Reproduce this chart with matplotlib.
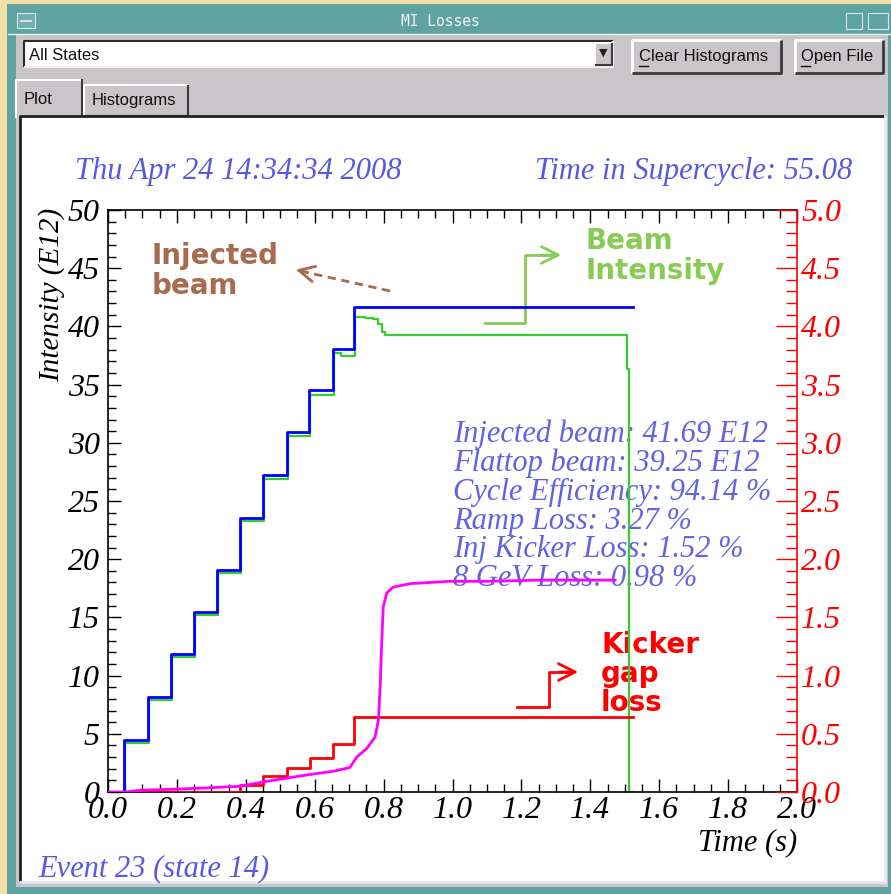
import numpy as np
import matplotlib.pyplot as plt
from matplotlib.patches import Rectangle, FancyArrowPatch
from matplotlib.ticker import MultipleLocator

# injected beam (blue), E12
inj_t = [0.0, 0.046, 0.116, 0.183, 0.250, 0.316, 0.383, 0.450, 0.520, 0.584, 0.653, 0.714, 1.524]
inj_v = [0.0, 4.47, 8.16, 11.86, 15.46, 19.07, 23.5, 27.2, 30.9, 34.5, 38.1, 41.69, 41.69]

# beam intensity (green), E12
beam_t = [0.0, 0.049, 0.119, 0.186, 0.253, 0.319, 0.386, 0.453, 0.523, 0.587, 0.656, 0.676,
          0.717, 0.745, 0.770, 0.785, 0.795, 0.805, 1.506, 1.511, 1.525]
beam_v = [0.0, 4.2, 7.9, 11.6, 15.2, 18.8, 23.3, 26.9, 30.6, 34.1, 37.7, 37.5,
          40.8, 40.7, 40.6, 40.2, 39.5, 39.25, 36.3, 0.0, 0.0]

# 8 GeV loss (magenta), right scale
loss8_t = [0.0, 0.05, 0.093, 0.20, 0.276, 0.383, 0.45, 0.52, 0.586, 0.653, 0.702, 0.722,
           0.75, 0.775, 0.785, 0.79, 0.794, 0.799, 0.809, 0.828, 0.877, 0.993, 1.10, 1.25, 1.472]
loss8_v = [0.0, 0.0, 0.015, 0.025, 0.034, 0.049, 0.086, 0.12, 0.15, 0.178, 0.21, 0.30,
           0.37, 0.47, 0.62, 0.90, 1.25, 1.59, 1.71, 1.76, 1.79, 1.81, 1.81, 1.82, 1.82]

# kicker gap loss (red), right scale
kick_t = [0.046, 0.383, 0.450, 0.520, 0.586, 0.653, 0.714, 1.524]
kick_v = [0.0, 0.064, 0.14, 0.21, 0.295, 0.416, 0.645, 0.645]

stats = ["Injected beam: 41.69 E12",
         "Flattop beam: 39.25 E12",
         "Cycle Efficiency: 94.14 %",
         "Ramp Loss: 3.27 %",
         "Inj Kicker Loss: 1.52 %",
         "8 GeV Loss: 0.98 %"]

W, H = 891, 894
fig = plt.figure(figsize=(W / 100, H / 100), dpi=100)

# window frame drawn in pixel coordinates
bg = fig.add_axes([0, 0, 1, 1], zorder=-1)
bg.set_xlim(0, W)
bg.set_ylim(H, 0)
bg.axis('off')

def rect(x0, y0, x1, y1, fc, ec='none', lw=0):
    bg.add_patch(Rectangle((x0, y0), x1 - x0, y1 - y0, fc=fc, ec=ec, lw=lw))

def bevel(x0, y0, x1, y1, light='#ffffff', dark='#3a3a3a', lw=1.5):
    bg.plot([x0, x0, x1], [y1, y0, y0], color=light, lw=lw, solid_capstyle='butt')
    bg.plot([x0, x1, x1], [y1, y1, y0], color=dark, lw=lw, solid_capstyle='butt')

ui = dict(fontsize=12, family='Liberation Sans', color='#111111', va='center')

rect(0, 0, W, H, '#f2dfa6')
rect(7, 4, W, H, '#5fa3a3')
rect(16, 34, 888, 887, '#c9c5c9')
# title bar
bg.plot([8, W], [34, 34], color='#e8f0f0', lw=1)
rect(17, 13, 35, 28, '#6fb0b0', '#d8e8e8', 0.8)
bg.plot([21, 31], [21, 21], color='#e0e0e0', lw=1.5)
rect(846, 13, 862, 29, '#5fa3a3', '#d8e8e8', 0.8)
rect(868, 13, 888, 29, '#5fa3a3', '#d8e8e8', 0.8)
bg.text(440, 21, "MI Losses", ha='center', va='center', fontsize=10.5,
        family='DejaVu Sans Mono', color='#f4f4f4')

# combo box
rect(24, 41, 613, 67, '#ffffff')
bevel(24, 41, 613, 67, light='#2a2a2a', dark='#f0f0f0')
bg.text(29, 55, "All States", ha='left', **ui)
rect(595, 43, 612, 65, '#c9c5c9')
bevel(595, 43, 612, 65)
bg.text(603.5, 53, "\u25bc", ha='center', va='center', fontsize=8, color='#222222')

# buttons
for x0, x1, tx, label in [(632, 781, 639, "Clear Histograms"), (795, 883, 801, "Open File")]:
    bevel(x0, 40, x1, 73, lw=2)
    bg.text(tx, 57, label, ha='left', **ui)
    bg.plot([tx, tx + 9], [66, 66], color='#111111', lw=1)

# tabs
bevel(84, 85, 188, 116, lw=1.5)
bg.text(92, 101, "Histograms", ha='left', **ui)
rect(16, 80, 83, 117, '#c9c5c9')
bg.plot([16, 16, 82], [117, 80, 80], color='#ffffff', lw=1.5)
bg.plot([82, 82], [80, 115], color='#3a3a3a', lw=1.5)
bg.text(24, 99, "Plot", ha='left', **ui)

# plot panel
rect(20, 116, 885, 882, '#ffffff')
bg.plot([20, 20, 885], [882, 116, 116], color='#222222', lw=2)
bg.plot([20, 885, 885], [882, 882, 116], color='#e8e8e8', lw=2)

serif = 'Liberation Serif'
txt_blue = '#5858e0'
bg.text(75, 171, "Thu Apr 24 14:34:34 2008", ha='left', va='center', fontsize=22,
        family=serif, style='italic', color=txt_blue)
bg.text(852, 171, "Time in Supercycle: 55.08", ha='right', va='center', fontsize=22,
        family=serif, style='italic', color=txt_blue)
bg.text(38, 869, "Event 23 (state 14)", ha='left', va='center', fontsize=22,
        family=serif, style='italic', color=txt_blue)
for i, s in enumerate(stats):
    bg.text(453, 434 + 29 * i, s, ha='left', va='center', fontsize=22,
            family=serif, style='italic', color='#6262e2')

# callouts
brown = '#a86b50'
green_lbl = '#88cc55'
bg.text(152, 271, "Injected\nbeam", ha='left', va='center', fontsize=20,
        fontweight='bold', color=brown, linespacing=1.1)
bg.plot([390, 305], [291, 272], color=brown, lw=2, ls=(0, (3, 2)))
bg.add_patch(FancyArrowPatch((310, 273), (293, 269), arrowstyle='->',
                             mutation_scale=28, color=brown, lw=2))
bg.text(585, 256, "Beam\nIntensity", ha='left', va='center', fontsize=20,
        fontweight='bold', color=green_lbl, linespacing=1.1)
bg.plot([485, 525, 525, 555], [323, 323, 255, 255], color=green_lbl, lw=2)
bg.add_patch(FancyArrowPatch((540, 255), (564, 255), arrowstyle='->',
                             mutation_scale=30, color=green_lbl, lw=2))
bg.text(601, 674, "Kicker\ngap\nloss", ha='left', va='center', fontsize=20,
        fontweight='bold', color='#ff0000', linespacing=1.05)
bg.plot([517, 549, 549, 572], [707, 707, 672, 672], color='#ff0000', lw=2)
bg.add_patch(FancyArrowPatch((557, 672), (581, 672), arrowstyle='->',
                             mutation_scale=30, color='#ff0000', lw=2))

# chart
ax = fig.add_axes([108 / W, 1 - 792 / H, 689 / W, 582 / H])
ax.set_facecolor('none')
ax.plot(beam_t, beam_v, drawstyle='steps-post', color='#33cc33', lw=1.6)
ax.plot(inj_t, inj_v, drawstyle='steps-post', color='#0000ff', lw=2.0)
ax.set_xlim(0, 2.0)
ax.set_ylim(0, 50)
ax.xaxis.set_major_locator(MultipleLocator(0.2))
ax.xaxis.set_minor_locator(MultipleLocator(0.05))
ax.yaxis.set_major_locator(MultipleLocator(5))
ax.yaxis.set_minor_locator(MultipleLocator(1))
ax.xaxis.set_major_formatter(lambda v, p: "%.1f" % v)
ax.tick_params(axis='x', which='both', direction='in', top=True, colors='black',
               labelsize=23, pad=3)
ax.tick_params(axis='y', which='both', direction='in', right=False, labelsize=23, pad=6)
ax.tick_params(which='major', length=9.5, width=1)
ax.tick_params(which='minor', length=5.5, width=1)
for lab in ax.get_xticklabels() + ax.get_yticklabels():
    lab.set_family(serif)
    lab.set_style('italic')
for sp in ax.spines.values():
    sp.set_linewidth(1.2)
ax.set_ylabel("Intensity (E12)", fontsize=21, family=serif, style='italic')
ax.yaxis.set_label_coords(-0.062, 0.855)
ax.set_xlabel("Time (s)", fontsize=22, family=serif, style='italic')
ax.xaxis.set_label_coords(1.0, -0.062)
ax.xaxis.label.set_horizontalalignment('right')

ax2 = ax.twinx()
ax2.plot(kick_t, kick_v, drawstyle='steps-post', color='#ff0000', lw=2.0)
ax2.plot(loss8_t, loss8_v, color='#ff00ff', lw=2.0)
ax2.set_ylim(0, 5.0)
ax2.yaxis.set_major_locator(MultipleLocator(0.5))
ax2.yaxis.set_minor_locator(MultipleLocator(0.1))
ax2.yaxis.set_major_formatter(lambda v, p: "%.1f" % v)
ax2.tick_params(axis='y', which='both', direction='in', colors='#ff0000',
                labelsize=23, pad=3)
ax2.tick_params(which='major', length=15, width=1)
ax2.tick_params(which='minor', length=8, width=1)
for lab in ax2.get_yticklabels():
    lab.set_family(serif)
    lab.set_style('italic')
ax2.spines['right'].set_color('#ff0000')
ax2.spines['right'].set_linewidth(1.2)
ax2.spines['left'].set_visible(False)
ax2.spines['top'].set_visible(False)
ax2.spines['bottom'].set_visible(False)
ax.spines['right'].set_visible(False)

fig.savefig("out.png", dpi=100)
